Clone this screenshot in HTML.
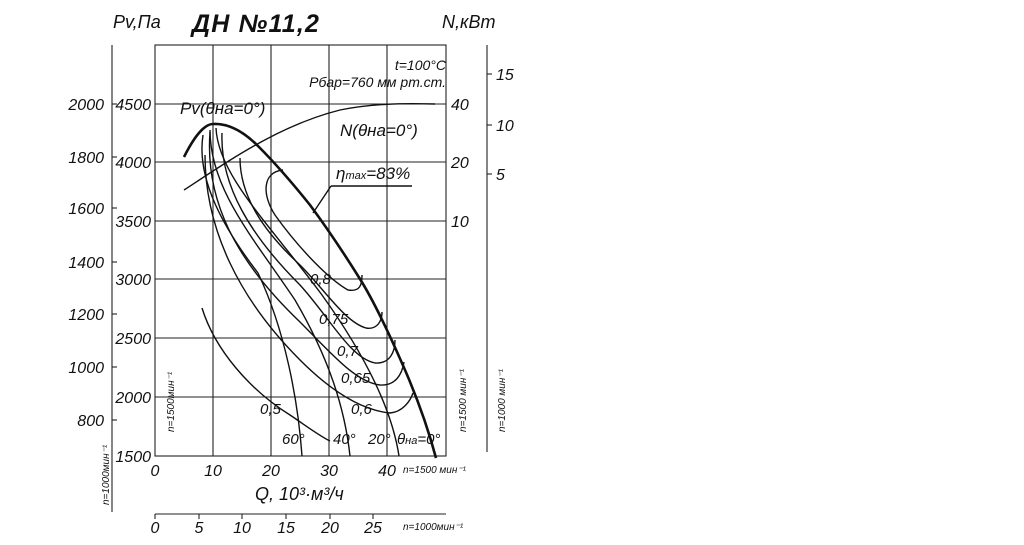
<!DOCTYPE html>
<html><head><meta charset="utf-8"><style>
html,body{margin:0;padding:0;background:#fff;width:1024px;height:545px;overflow:hidden}
svg text{font-family:"Liberation Sans",sans-serif;font-style:italic;fill:#111}
</style></head><body>
<svg width="1024" height="545" viewBox="0 0 1024 545" xmlns="http://www.w3.org/2000/svg">
<g stroke="#222" stroke-width="1.1" fill="none">
<rect x="155" y="45" width="291" height="411"/>
<line x1="213" y1="45" x2="213" y2="456"/><line x1="271" y1="45" x2="271" y2="456"/>
<line x1="329" y1="45" x2="329" y2="456"/><line x1="387" y1="45" x2="387" y2="456"/>
<line x1="155" y1="104" x2="446" y2="104"/><line x1="155" y1="162" x2="446" y2="162"/>
<line x1="155" y1="221" x2="446" y2="221"/><line x1="155" y1="279" x2="446" y2="279"/>
<line x1="155" y1="338" x2="446" y2="338"/><line x1="155" y1="397" x2="446" y2="397"/>
<line x1="112" y1="45" x2="112" y2="512"/>
<line x1="112" y1="104" x2="117" y2="104"/><line x1="112" y1="157" x2="117" y2="157"/>
<line x1="112" y1="208" x2="117" y2="208"/><line x1="112" y1="262" x2="117" y2="262"/>
<line x1="112" y1="314" x2="117" y2="314"/><line x1="112" y1="367" x2="117" y2="367"/>
<line x1="112" y1="420" x2="117" y2="420"/>
<line x1="487" y1="45" x2="487" y2="452"/>
<line x1="487" y1="74" x2="492" y2="74"/><line x1="487" y1="125" x2="492" y2="125"/><line x1="487" y1="174" x2="492" y2="174"/>
<line x1="155" y1="514" x2="446" y2="514"/>
<line x1="155" y1="514" x2="155" y2="519"/><line x1="199" y1="514" x2="199" y2="519"/><line x1="242" y1="514" x2="242" y2="519"/>
<line x1="286" y1="514" x2="286" y2="519"/><line x1="330" y1="514" x2="330" y2="519"/><line x1="373" y1="514" x2="373" y2="519"/>
</g>
<g stroke="#111" stroke-width="1.4" fill="none">
<path d="M184,190 C230,160 280,125 340,110 C370,104 400,103 435,104"/>
<path d="M203,135 C196,180 225,230 258,273 C285,330 298,400 302,456"/>
<path d="M210,130 C210,190 255,240 295,300 C330,360 345,410 350,456"/>
<path d="M216,128 C218,175 270,225 322,295 C365,355 392,410 399,456"/>
<path d="M202,308 C215,350 250,390 290,415 C305,425 318,435 330,441"/>
<path d="M205,155 C205,230 240,300 300,360 C330,390 360,410 390,413 C402,412 410,402 413,393"/>
<path d="M210,132 C205,200 235,260 300,322 C330,352 355,382 380,385 C395,386 402,375 404,362"/>
<path d="M222,133 C220,185 250,235 300,285 C330,318 350,358 375,363 C390,364 395,352 395,340"/>
<path d="M240,158 C240,195 262,230 300,265 C325,290 345,322 366,328 C378,330 382,320 382,312"/>
<path d="M283,170 C262,172 262,195 275,215 C300,250 330,280 348,290 C360,292 362,285 362,275"/>
<line x1="313" y1="213" x2="331" y2="186"/><line x1="331" y1="186" x2="412" y2="186"/>
</g>
<path d="M184,157 C195,135 205,124 213,124 C230,123 245,133 258,146 C272,160 290,180 310,205 C330,232 345,255 360,279 C375,303 392,340 405,370 C418,400 428,428 436,458" stroke="#111" stroke-width="2.6" fill="none"/>
<g font-size="18">
<text x="113" y="28">Pv,Па</text>
<text x="442" y="28">N,кВт</text>
</g>
<g font-size="15">
<text x="446" y="70" text-anchor="end" font-size="14">t=100°C</text>
<text x="446" y="87" text-anchor="end" font-size="14">Pбар=760 мм рт.ст.</text>
<text x="180" y="114" font-size="17">Pv(θна=0°)</text>
<text x="340" y="136" font-size="17">N(θна=0°)</text>
<text x="336" y="179" font-size="17">η<tspan font-size="11">max</tspan>=83%</text>
</g>
<text x="192" y="32" font-size="25" font-weight="bold" letter-spacing="1.2" style="font-style:italic">ДН №11,2</text>
<g font-size="16" text-anchor="end">
<text x="104" y="110">2000</text><text x="104" y="163">1800</text><text x="104" y="214">1600</text>
<text x="104" y="268">1400</text><text x="104" y="320">1200</text><text x="104" y="373">1000</text><text x="104" y="426">800</text>
<text x="151" y="110">4500</text><text x="151" y="168">4000</text><text x="151" y="227">3500</text>
<text x="151" y="285">3000</text><text x="151" y="344">2500</text><text x="151" y="403">2000</text><text x="151" y="462">1500</text>
</g>
<g font-size="16">
<text x="451" y="110">40</text><text x="451" y="168">20</text><text x="451" y="227">10</text>
<text x="496" y="80">15</text><text x="496" y="131">10</text><text x="496" y="180">5</text>
</g>
<g font-size="16" text-anchor="middle">
<text x="155" y="476">0</text><text x="213" y="476">10</text><text x="271" y="476">20</text><text x="329" y="476">30</text><text x="387" y="476">40</text>
<text x="155" y="533">0</text><text x="199" y="533">5</text><text x="242" y="533">10</text><text x="286" y="533">15</text><text x="330" y="533">20</text><text x="373" y="533">25</text>
</g>
<text x="255" y="500" font-size="18" style="font-style:italic">Q, 10³·м³/ч</text>
<g font-size="10">
<text x="403" y="473">n=1500 мин⁻¹</text>
<text x="403" y="530">n=1000мин⁻¹</text>
<text transform="translate(174,432) rotate(-90)">n=1500мин⁻¹</text>
<text transform="translate(109,505) rotate(-90)">n=1000мин⁻¹</text>
<text transform="translate(466,432) rotate(-90)">n=1500 мин⁻¹</text>
<text transform="translate(505,432) rotate(-90)">n=1000 мин⁻¹</text>
</g>
<g font-size="15">
<text x="310" y="284">0,8</text><text x="319" y="324">0,75</text><text x="337" y="356">0,7</text>
<text x="341" y="383">0,65</text><text x="351" y="414">0,6</text><text x="260" y="414">0,5</text>
<text x="282" y="444">60°</text><text x="333" y="444">40°</text><text x="368" y="444">20°</text>
<text x="397" y="444">θ<tspan font-size="11">на</tspan>=0°</text>
</g>
</svg>
</body></html>
